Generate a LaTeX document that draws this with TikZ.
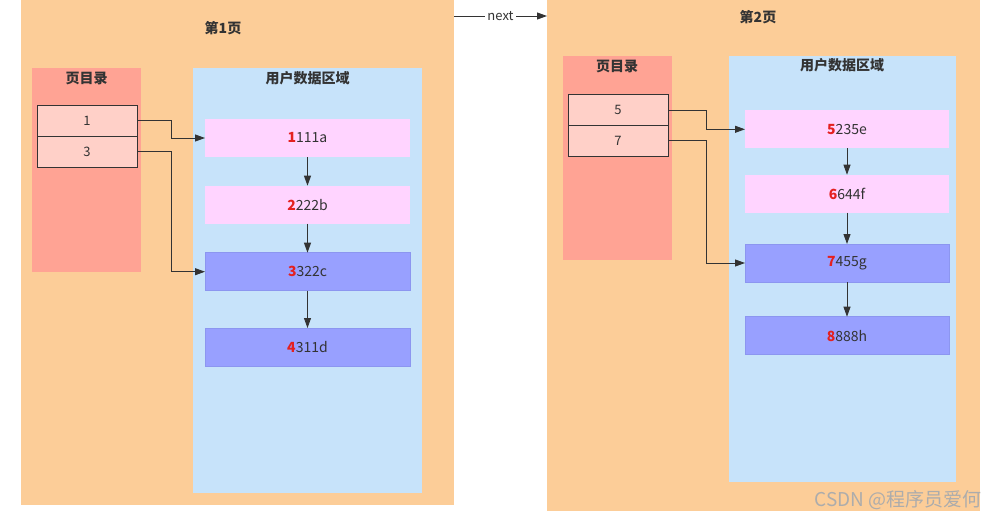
\documentclass[tikz,border=0pt]{standalone}
\usepackage{fontspec}
\setmainfont{Noto Sans CJK SC}
\usetikzlibrary{arrows.meta}
\definecolor{pageorange}{RGB}{252,205,152}
\definecolor{dirsalmon}{RGB}{255,163,148}
\definecolor{databLue}{RGB}{199,227,250}
\definecolor{entryfill}{RGB}{255,208,200}
\definecolor{recpink}{RGB}{255,212,255}
\definecolor{recpurple}{RGB}{152,160,255}
\definecolor{recpurpleline}{RGB}{140,150,240}
\definecolor{txtdark}{RGB}{51,51,51}
\definecolor{keyred}{RGB}{228,32,32}
\tikzset{
  area/.style={anchor=north west, inner sep=0pt, outer sep=0pt, draw=none},
  pagebox/.style={area, fill=pageorange, minimum width=433pt},
  dirbox/.style={area, fill=dirsalmon, minimum width=109pt, minimum height=204pt},
  databox/.style={area, fill=databLue},
  entrybox/.style={area, fill=entryfill, draw=txtdark, line width=0.9pt, minimum width=100pt, minimum height=31pt, font=\fontsize{13}{15}\selectfont, text=txtdark},
  recbox/.style={area, minimum height=38pt, font=\fontsize{14}{16}\selectfont, text=txtdark},
  pinkrec/.style={recbox, fill=recpink},
  purprec/.style={recbox, fill=recpurple, draw=recpurpleline, line width=0.6pt},
  ttl/.style={font=\fontsize{14}{16}\selectfont\bfseries, text=txtdark, inner sep=0pt},
  conn/.style={draw=txtdark, line width=0.9pt, -{Triangle[length=10pt,width=7pt]}},
}
\newcommand{\keyd}[1]{\textcolor{keyred}{\bfseries #1}}
\begin{document}
\begin{tikzpicture}[x=1pt,y=-1pt]
\useasboundingbox[fill=white] (0,0) rectangle (1001,520);
% pages
\node[pagebox, minimum height=505pt] (p1) at (21,0) {};
\node[pagebox, minimum height=511pt] (p2) at (547,0) {};
% page titles
\node[ttl] (t1) at (223,28) {第1页};
\node[ttl] (t2) at (758,17) {第2页};
% page directories
\node[dirbox] (d1) at (32,68) {};
\node[dirbox] (d2) at (562.5,56) {};
\node[ttl] (dt1) at (86.5,78) {页目录};
\node[ttl] (dt2) at (617,66) {页目录};
% user data areas
\node[databox, minimum width=229pt, minimum height=425pt] (u1) at (193,68) {};
\node[databox, minimum width=227pt, minimum height=426pt] (u2) at (729,56) {};
\node[ttl] (ut1) at (307.5,78) {用户数据区域};
\node[ttl] (ut2) at (842,65) {用户数据区域};
% directory entries
\node[entrybox] (e1) at (37,105) {};
\node[entrybox] (e3) at (37,136) {};
\node[entrybox] (e5) at (568,94.5) {};
\node[entrybox] (e7) at (568,125.2) {};
\node[text=txtdark, font=\fontsize{13}{15}\selectfont, inner sep=0pt] (e1t) at (e1.center) {1};
\node[text=txtdark, font=\fontsize{13}{15}\selectfont, inner sep=0pt] (e3t) at (e3.center) {3};
\node[text=txtdark, font=\fontsize{13}{15}\selectfont, inner sep=0pt] (e5t) at (e5.center) {5};
\node[text=txtdark, font=\fontsize{13}{15}\selectfont, inner sep=0pt] (e7t) at (e7.center) {7};
% records page 1
\node[pinkrec, minimum width=205pt] (r1) at (205,119) {};
\node[pinkrec, minimum width=205pt] (r2) at (205,185.7) {};
\node[purprec, minimum width=205pt] (r3) at (205,252.7) {};
\node[purprec, minimum width=205pt] (r4) at (205,328) {};
% records page 2
\node[pinkrec, minimum width=204pt] (r5) at (745,110.3) {};
\node[pinkrec, minimum width=204pt] (r6) at (745,174.7) {};
\node[purprec, minimum width=204pt] (r7) at (745,244) {};
\node[purprec, minimum width=204pt] (r8) at (745,316.7) {};
\foreach \r/\k/\rest in {r1/1/111a, r2/2/222b, r3/3/322c, r4/4/311d, r5/5/235e, r6/6/644f, r7/7/455g, r8/8/888h}{
  \node[text=txtdark, font=\fontsize{14}{16}\selectfont, inner sep=0pt] (\r t) at (\r.center) {\keyd{\k}\rest};
}
% chains
\draw[conn] (r1.south) -- (r2.north);
\draw[conn] (r2.south) -- (r3.north);
\draw[conn] (r3.south) -- (r4.north);
\draw[conn] (r5.south) -- (r6.north);
\draw[conn] (r6.south) -- (r7.north);
\draw[conn] (r7.south) -- (r8.north);
% directory pointers
\coordinate (k1) at (171,0);
\coordinate (k2) at (706,0);
\draw[conn] (e1.east) -- (e1.east -| k1) |- (r1.west);
\draw[conn] (e3.east) -- (e3.east -| k1) |- (r3.west);
\draw[conn] (e5.east) -- (e5.east -| k2) |- (r5.west);
\draw[conn] (e7.east) -- (e7.east -| k2) |- (r7.west);
% next pointer
\coordinate (n1) at (p1.north east |- 0,16);
\coordinate (n2) at (p2.north west |- 0,16);
\draw[conn] (n1) -- node[fill=white, inner sep=2pt, text=txtdark, font=\fontsize{13}{15}\selectfont] (nx) {next} (n2);
% watermark
\node[text=gray!65, font=\fontsize{19}{21}\selectfont, inner sep=0pt] (wm) at (898,500) {CSDN @程序员爱何};
\end{tikzpicture}
\end{document}
